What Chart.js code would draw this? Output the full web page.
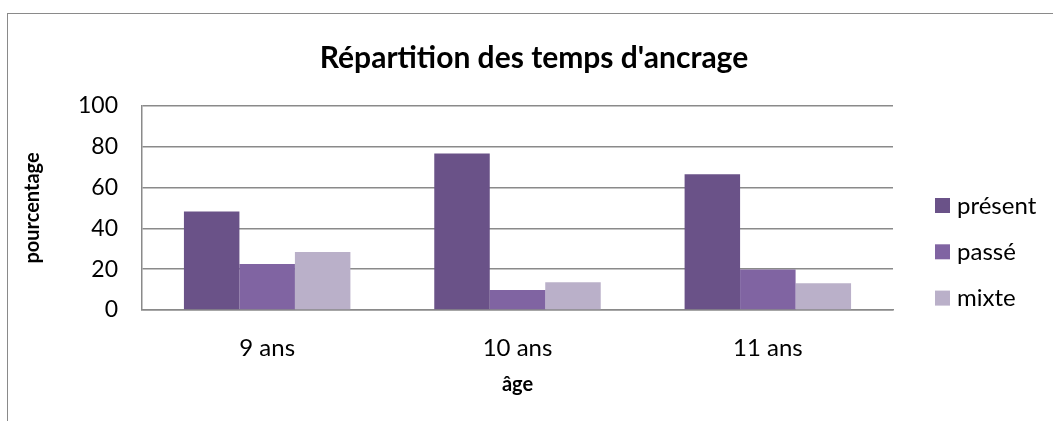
<!DOCTYPE html>
<html>
<head>
<meta charset="utf-8">
<script src="https://cdn.jsdelivr.net/npm/chart.js@4.4.1/dist/chart.umd.min.js"></script>
<style>
  html, body { margin: 0; padding: 0; background: #fff; overflow: hidden; width: 1053px; height: 421px; }
  #frame { position: absolute; left: 7px; top: 13px; width: 2000px; height: 2000px; border: 1px solid #8a8a8a; box-sizing: border-box; }
  #c { position: absolute; left: 0; top: 0; }
</style>
</head>
<body>
<div id="frame"></div>
<canvas id="c" width="1053" height="421"></canvas>
<script>
const categories = ['9 ans', '10 ans', '11 ans'];
const seriesNames = ['présent', 'passé', 'mixte'];
const present = [48.3, 76.7, 66.6];
const passe = [22.5, 9.8, 19.9];
const mixte = [28.4, 13.6, 13.1];
const yTicks = [0, 20, 40, 60, 80, 100];
const colors = ['#6A5288', '#8064A2', '#BAB0C9'];
const titleText = "Répartition des temps d'ancrage";
const yTitle = 'pourcentage';
const xTitle = 'âge';

const FONT = 'Lato';

const sideLegend = {
  id: 'sideLegend',
  afterDraw(chart) {
    const { ctx, chartArea } = chart;
    ctx.save();
    ctx.font = '24px ' + FONT;
    ctx.textBaseline = 'middle';
    ctx.textAlign = 'left';
    chart.data.datasets.forEach((ds, i) => {
      const cy = chartArea.top + 99 + i * 46.3;
      const bx = chartArea.right + 42;
      ctx.fillStyle = ds.backgroundColor;
      ctx.fillRect(bx, cy - 7, 15, 15);
      ctx.fillStyle = '#000';
      ctx.fillText(ds.label, bx + 22, cy + 1);
    });
    ctx.restore();
  }
};

const seriesValues = [present, passe, mixte];

new Chart(document.getElementById('c'), {
  type: 'bar',
  data: {
    labels: categories,
    datasets: seriesNames.map((name, i) => ({
      label: name,
      data: seriesValues[i],
      backgroundColor: colors[i],
      borderWidth: 0,
      barPercentage: 1,
      categoryPercentage: 0.665
    }))
  },
  options: {
    responsive: false,
    animation: false,
    devicePixelRatio: 1,
    layout: { padding: { left: 15, right: 0, top: 0, bottom: 0 } },
    plugins: {
      legend: { display: false },
      tooltip: { enabled: false },
      title: {
        display: true,
        text: titleText,
        color: '#000',
        font: { family: FONT, size: 30, weight: 'bold' },
        padding: { top: 40, bottom: 30 }
      }
    },
    scales: {
      x: {
        grid: { display: false, drawTicks: false },
        border: { display: true, color: '#8a8a8a', width: 1.5 },
        ticks: { color: '#000', font: { family: FONT, size: 24 }, padding: 24 },
        title: { display: true, text: xTitle, color: '#000', font: { family: FONT, size: 20, weight: 'bold' }, padding: { top: 0, bottom: 24 } },
        afterFit(scale) { scale.height = 111; }
      },
      y: {
        min: 0, max: 100,
        afterBuildTicks(scale) { scale.ticks = yTicks.map(v => ({ value: v })); },
        grid: { color: '#8a8a8a', lineWidth: 1.5, drawTicks: false },
        border: { display: true, color: '#8a8a8a', width: 1.5 },
        ticks: { color: '#000', font: { family: FONT, size: 23 }, padding: 24 },
        title: { display: true, text: yTitle, color: '#000', font: { family: FONT, size: 20, weight: 'bold' }, padding: { top: 6, bottom: 0 } },
        afterFit(scale) { scale.width = 127; }
      },
      side: {
        position: 'right',
        display: true,
        grid: { display: false, drawTicks: false },
        border: { display: false },
        ticks: { display: false },
        afterFit(scale) { scale.width = 160; }
      }
    }
  },
  plugins: [sideLegend]
});
</script>
</body>
</html>
